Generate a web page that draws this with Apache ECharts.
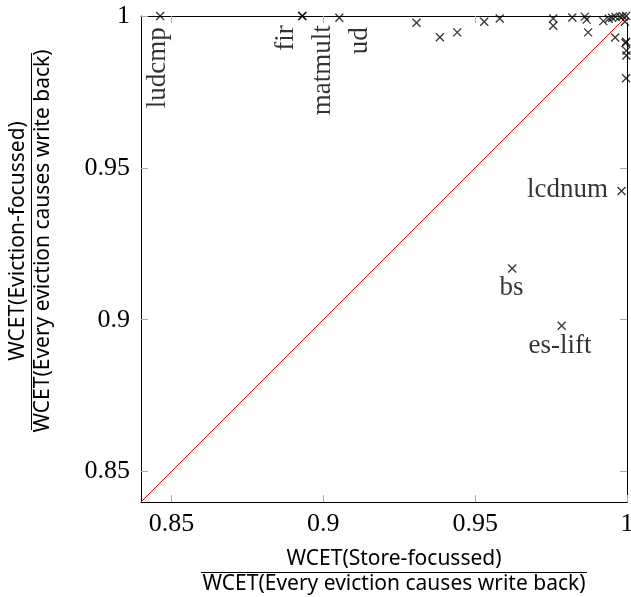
<!DOCTYPE html>
<html>
<head>
<meta charset="utf-8">
<script src="https://cdn.jsdelivr.net/npm/echarts@6/dist/echarts.min.js"></script>
<style>
  html, body { margin: 0; padding: 0; background: #fff; }
  #chart { width: 631px; height: 597px; }
</style>
</head>
<body>
<div id="chart"></div>
<script>
// benchmark ratios: x = store-focussed, y = eviction-focussed
const names = ['ludcmp', 'fir', 'matmult', 'ud', '', '', '', '', '', '', '', '', '', '', '', '', '', '', '',
  '', '', '', '', '', '', '', '', '', '', 'lcdnum', 'bs', 'es-lift']
const xs = [0.8463, 0.8931, 0.8931, 0.9053, 0.9307, 0.9384, 0.9441, 0.9530, 0.9581, 0.9757, 0.9757,
  0.9820, 0.9861, 0.9867, 0.9872, 0.9922, 0.9940, 0.9951, 0.9962, 0.9961, 0.9977, 0.9986, 0.9997,
  0.9993, 0.9997, 0.9995, 0.9998, 0.9998, 0.9997, 0.9982, 0.9622, 0.9785]
const ys = [1.0, 1.0, 1.0, 0.9994, 0.9978, 0.9930, 0.9946, 0.9981, 0.9992, 0.9992, 0.9968,
  0.9995, 0.9998, 0.9988, 0.9946, 0.9983, 0.9991, 0.9994, 0.9997, 0.9929, 0.9998, 0.9999, 1.0,
  0.9981, 0.9915, 0.9911, 0.9886, 0.9870, 0.9795, 0.9424, 0.9169, 0.8980]
const diagonal = [[0.84, 0.84], [1, 1]]
const tickValues = [0.85, 0.9, 0.95, 1]
const tickLabels = ['0.85', '0.9', '0.95', '1']

const serif = '"Liberation Serif", "DejaVu Serif", serif'
const sans = '"Noto Sans", "DejaVu Sans", sans-serif'

// label placement per benchmark (offsets from the mark)
const labelStyles = {
  ludcmp: { rotate: 90, align: 'right', verticalAlign: 'middle', position: [2, 16] },
  fir: { rotate: 90, align: 'right', verticalAlign: 'middle', position: [-12, 14] },
  matmult: { rotate: 90, align: 'right', verticalAlign: 'middle', position: [25, 14] },
  ud: { rotate: 90, align: 'right', verticalAlign: 'middle', position: [25, 14] },
  lcdnum: { align: 'right', verticalAlign: 'middle', position: [-9, 4] },
  bs: { align: 'center', verticalAlign: 'middle', position: [4, 24] },
  'es-lift': { align: 'center', verticalAlign: 'middle', position: [3, 25] }
}

const points = xs.map((x, i) => {
  const item = { value: [x, ys[i]], name: names[i] }
  const ls = labelStyles[names[i]]
  if (ls) item.label = Object.assign({ show: true, formatter: '{b}' }, ls)
  return item
})

const fmt = v => {
  const i = tickValues.findIndex(t => Math.abs(t - v) < 1e-6)
  return i >= 0 ? tickLabels[i] : ''
}

const makeAxis = (position, showLabel) => ({
  type: 'value', min: 0.84, max: 1, position,
  axisLine: { onZero: false, lineStyle: { color: '#000', width: 1 } },
  axisTick: { inside: true, length: 7, customValues: tickValues, lineStyle: { color: '#aaa', width: 1 } },
  axisLabel: {
    show: showLabel, customValues: tickValues, formatter: fmt,
    margin: position === 'bottom' ? 9 : 11,
    color: '#000', fontFamily: serif, fontSize: 26
  },
  splitLine: { show: false }
})

const chart = echarts.init(document.getElementById('chart'))
chart.setOption({
  animation: false,
  grid: { left: 141, top: 16, width: 486, height: 486, outerBoundsMode: 'none', containLabel: false },
  xAxis: [makeAxis('bottom', true), makeAxis('top', false)],
  yAxis: [makeAxis('left', true), makeAxis('right', false)],
  graphic: [
    // x axis title as a fraction
    { type: 'text', x: 394, y: 570, style: { text: 'WCET(Store-focussed)', font: '21px ' + sans, fill: '#000', align: 'center', verticalAlign: 'bottom' } },
    { type: 'rect', shape: { x: 201, y: 572, width: 386, height: 1 }, style: { fill: '#000' } },
    { type: 'text', x: 394, y: 574, style: { text: 'WCET(Every eviction causes write back)', font: '21px ' + sans, fill: '#000', align: 'center', verticalAlign: 'top' } },
    // y axis title as a fraction, rotated
    { type: 'text', x: 29, y: 241, rotation: Math.PI / 2, style: { text: 'WCET(Eviction-focussed)', font: '21px ' + sans, fill: '#000', align: 'center', verticalAlign: 'bottom' } },
    { type: 'rect', shape: { x: 31, y: 53, width: 1, height: 377 }, style: { fill: '#000' } },
    { type: 'text', x: 33, y: 241, rotation: Math.PI / 2, style: { text: 'WCET(Every eviction causes write back)', font: '21px ' + sans, fill: '#000', align: 'center', verticalAlign: 'top' } }
  ],
  series: [
    {
      type: 'line', data: diagonal, symbol: 'none', silent: true,
      lineStyle: { color: '#ff0000', width: 1 }
    },
    {
      type: 'scatter', data: points,
      symbol: 'path://M0,0L10,10M10,0L0,10', symbolSize: 8,
      itemStyle: { color: 'transparent', borderColor: '#000', borderWidth: 1.3 },
      label: { color: '#000', fontFamily: serif, fontSize: 27 },
      z: 5
    }
  ]
})
window.addEventListener('resize', () => chart.resize())
</script>
</body>
</html>
